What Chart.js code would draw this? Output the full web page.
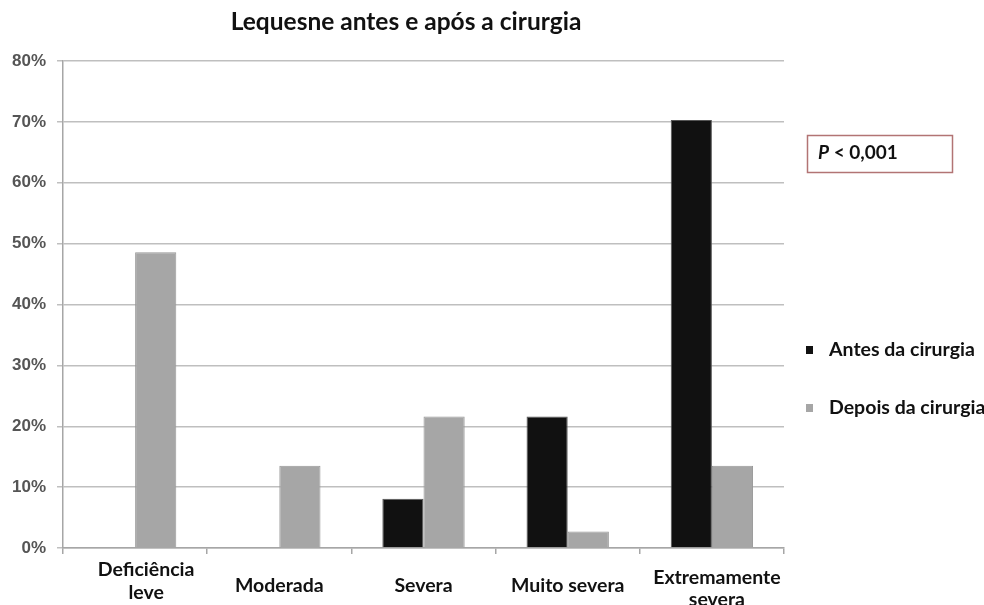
<!DOCTYPE html>
<html><head><meta charset="utf-8">
<script src="https://cdn.jsdelivr.net/npm/chart.js@4"></script>
<style>html,body{margin:0;padding:0;background:#fff;overflow:hidden}canvas{display:block}</style>
</head><body>
<canvas id="c" width="984" height="605"></canvas>
<script>
const titleText = "Lequesne antes e após a cirurgia";
const categories = [["Deficiência", "leve"], "Moderada", "Severa", "Muito severa", ["Extremamente", "severa"]];
const seriesNames = ["Antes da cirurgia", "Depois da cirurgia"];
const antes = [null, null, 8.1, 21.6, 70.3];
const depois = [48.6, 13.5, 21.6, 2.7, 13.5];
const yMin = 0, yMax = 80, yStep = 10;
const pLabel = "P";
const pRest = " < 0,001";

const annot = {
  id: 'annot',
  afterDraw(chart) {
    const ctx = chart.ctx;
    ctx.save();
    // title
    ctx.textAlign = 'center';
    ctx.textBaseline = 'middle';
    ctx.fillStyle = '#111';
    ctx.font = 'bold 24.5px Lato';
    ctx.fillText(titleText, 406, 22);
    // category labels (positioned by the x scale)
    const xs = chart.scales.x;
    const lineY = [[570, 593], [586], [586], [586], [578, 600]];
    const dx = [11, 0, 0, 0, 5];
    ctx.font = 'bold 19.5px Lato';
    chart.data.labels.forEach((lab, i) => {
      const x = xs.getPixelForValue(i) + dx[i];
      const lines = Array.isArray(lab) ? lab : [lab];
      lines.forEach((t, j) => ctx.fillText(t, x, lineY[i][j]));
    });
    ctx.textAlign = 'left';
    // p-value box
    ctx.strokeStyle = '#b27474';
    ctx.lineWidth = 1.5;
    ctx.strokeRect(807.5, 135.5, 145, 37);
    ctx.font = 'italic bold 19px Lato';
    ctx.fillText(pLabel, 818, 153);
    const w = ctx.measureText(pLabel).width;
    ctx.font = 'bold 19px Lato';
    ctx.fillText(pRest, 818 + w, 153);
    // legend
    ctx.font = 'bold 19.5px Lato';
    const ys = [350, 408];
    chart.data.datasets.forEach((ds, i) => {
      const y = ys[i];
      ctx.fillStyle = ds.backgroundColor;
      ctx.fillRect(806, y - 4, 7, 8);
      ctx.fillStyle = '#111';
      ctx.fillText(ds.label, 829, y);
    });
    ctx.restore();
  }
};

new Chart(document.getElementById('c'), {
  type: 'bar',
  data: {
    labels: categories,
    datasets: [
      { label: seriesNames[0], data: antes, backgroundColor: '#111111', borderColor: '#555555', borderWidth: 1,
        categoryPercentage: 0.571, barPercentage: 1.0 },
      { label: seriesNames[1], data: depois, backgroundColor: '#a6a6a6', borderColor: '#979797', borderWidth: 1,
        categoryPercentage: 0.571, barPercentage: 1.0 }
    ]
  },
  options: {
    responsive: false,
    animation: false,
    layout: { autoPadding: false, padding: { left: 1, right: 200, top: 61, bottom: 51 } },
    plugins: {
      legend: { display: false },
      tooltip: { enabled: false },
      title: { display: false }
    },
    scales: {
      x: {
        grid: { display: true, drawOnChartArea: false, drawTicks: true, tickLength: 6, color: '#a6a6a6', lineWidth: 1.5, offset: true },
        border: { color: '#a6a6a6', width: 1.5 },
        ticks: { display: false }
      },
      y: {
        min: yMin, max: yMax,
        grid: { color: '#bfbfbf', lineWidth: 1.5, tickLength: 6, drawTicks: true },
        border: { color: '#a6a6a6', width: 1.5 },
        ticks: {
          stepSize: yStep,
          callback: v => v + '%',
          font: { family: 'Liberation Sans', size: 17, weight: 'bold' },
          color: '#555555', padding: 11
        }
      }
    }
  },
  plugins: [annot]
});
</script>
</body></html>
